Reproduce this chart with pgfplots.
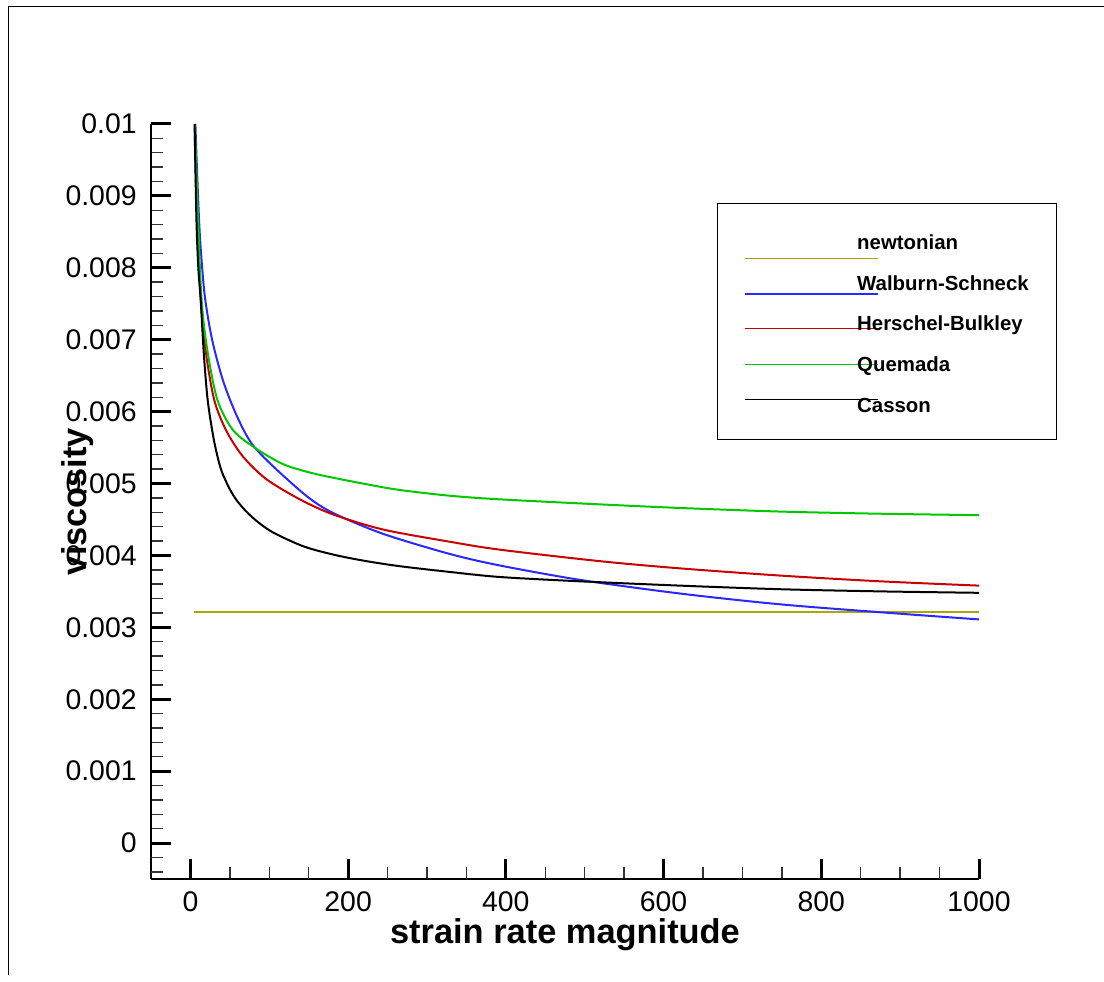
\documentclass[border=0pt]{standalone}
\usepackage{fontspec}
\setmainfont{Liberation Sans}
\usepackage{pgfplots}
\pgfplotsset{compat=1.18}
\definecolor{newt}{RGB}{170,165,10}
\definecolor{wsblue}{RGB}{40,40,255}
\definecolor{hbred}{RGB}{200,0,0}
\definecolor{qmgreen}{RGB}{0,200,0}
% legend sample line, shifted vertically by the argument
\pgfplotsset{legline/.style={legend image code/.code={%
    \draw[##1,line width=0.6pt,overlay] (0pt,#1) -- (66.7pt,#1);
    \path[draw=none,fill=none] (0pt,0pt) -- (56.2pt,0pt);}}}
\begin{document}
\begin{tikzpicture}
\useasboundingbox (0,0) rectangle (552pt,490.5pt);
% outer frame (top and left edges only)
\draw[line width=0.6pt] (4.15pt,3pt) -- (4.15pt,487.15pt) -- (552pt,487.15pt);
\begin{axis}[
    at={(75.5pt,51pt)}, anchor=south west,
    scale only axis, width=414pt, height=377.5pt,
    xmin=-50, xmax=1000, ymin=-0.0005, ymax=0.01,
    axis lines=left, axis line style={-, line width=1.4pt},
    xtick={0,200,400,600,800,1000},
    ytick={0,0.001,0.002,0.003,0.004,0.005,0.006,0.007,0.008,0.009,0.01},
    minor x tick num=3, minor y tick num=4,
    extra y ticks={-0.0002,-0.0004}, extra y tick labels={},
    extra y tick style={major tick length=6pt, major tick style={line width=0.7pt, black!80}},
    tick align=inside,
    major tick length=10pt, minor tick length=6pt,
    major tick style={line width=1.5pt, black},
    minor tick style={line width=0.7pt, black!80},
    scaled y ticks=false,
    /pgf/number format/assume math mode=true,
    /pgf/number format/1000 sep={},
    tick label style={font=\fontsize{14.2}{16}\selectfont},
    yticklabel style={/pgf/number format/fixed, /pgf/number format/precision=3, inner xsep=7pt},
    xticklabel style={inner ysep=6.35pt},
    every axis x label/.style={at={([yshift=-32.15pt]axis description cs:0.5,0)}, anchor=base,
        font=\fontsize{17.2}{20}\selectfont\bfseries},
    every axis y label/.style={at={([xshift=-32pt]axis description cs:0,0.5)}, rotate=90, anchor=base,
        font=\fontsize{17.2}{20}\selectfont\bfseries},
    xlabel={strain rate magnitude},
    ylabel={viscosity},
    legend style={at={(0.6836,0.8954)}, anchor=north west, draw=black, line width=0.5pt,
        inner xsep=13.65pt, inner ysep=13.65pt, row sep=10.8pt, column sep=0pt,
        cells={anchor=base west},
        nodes={inner sep=0pt, text height=9.5pt, text depth=0pt,
               font=\fontsize{10.2}{12}\selectfont\bfseries}},
]
\addplot[newt, line width=1pt, legline=-4.2pt]
    coordinates {(5,0.00321) (1000,0.00321)};
\addlegendentry{newtonian}
\addplot[wsblue, line width=1pt, smooth, tension=0.5, legline=-1.85pt]
    coordinates {
    (6.3,0.0100) (8.2,0.0094) (10.9,0.00868) (13.1,0.00826) (18.3,0.00760) (27.5,0.00700)
    (41.4,0.00643) (58.4,0.00595) (77.4,0.00556) (104.8,0.00524) (148,0.00482)
    (181,0.00459) (244.4,0.00430) (329.1,0.00402) (392.5,0.00386) (494,0.00366)
    (620.9,0.00347) (747.8,0.00332) (874.7,0.00321) (1000,0.00311)};
\addlegendentry{Walburn-Schneck}
\addplot[hbred, line width=1pt, smooth, tension=0.5, legline=1.15pt]
    coordinates {
    (5.5,0.0099) (8.4,0.00868) (13.1,0.00756) (19,0.00687) (30,0.00617)
    (45.7,0.00573) (67,0.00537) (96.4,0.00506) (138.7,0.00478) (181,0.00457)
    (244.4,0.00436) (329.1,0.00419) (392.5,0.00408) (519.4,0.00392) (620.9,0.00382)
    (747.8,0.00372) (874.7,0.00364) (1000,0.00358)};
\addlegendentry{Herschel-Bulkley}
\addplot[qmgreen, line width=1pt, smooth, tension=0.5, legline=3.35pt]
    coordinates {
    (5.5,0.0100) (9.6,0.00868) (14.1,0.00756) (21.2,0.00687) (34,0.00617)
    (53.5,0.00575) (80,0.00551) (117.5,0.00527) (159.9,0.00513) (223.4,0.00499)
    (265.6,0.00491) (329.1,0.00483) (392.5,0.00478) (519.4,0.00471) (620.9,0.00466)
    (747.8,0.00461) (874.7,0.00458) (1000,0.00456)};
\addlegendentry{Quemada}
\addplot[black, line width=1pt, smooth, tension=0.5, legline=6.35pt]
    coordinates {
    (5.3,0.0100) (7.6,0.00868) (10,0.0080) (13,0.00756) (17,0.00680) (22,0.00615)
    (29.5,0.00562) (36.3,0.00529) (41.4,0.00512) (50,0.00492) (58.4,0.00477)
    (70,0.00462) (83.8,0.00448) (100,0.00435) (117.5,0.00425) (140,0.00414)
    (159.9,0.00407) (190,0.00399) (223.4,0.00392) (265.6,0.00385) (329.1,0.00377)
    (392.5,0.00370) (494,0.00364) (620.9,0.00358) (747.8,0.00353) (874.7,0.00350)
    (1000,0.00348)};
\addlegendentry{Casson}
\end{axis}
\end{tikzpicture}
\end{document}
